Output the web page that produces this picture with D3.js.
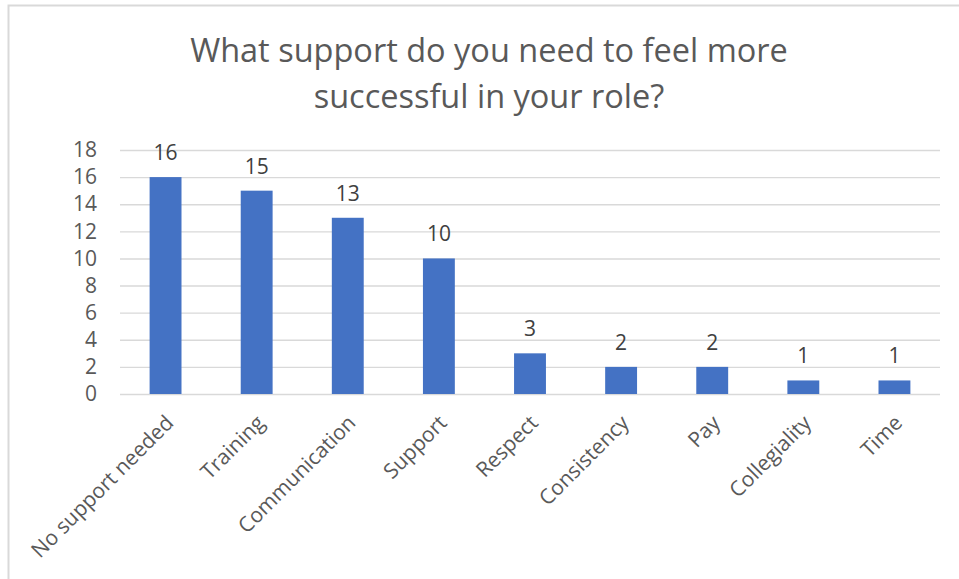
<!DOCTYPE html>
<html>
<head>
<meta charset="utf-8">
<script src="https://cdn.jsdelivr.net/npm/d3@7"></script>
<style>
  html, body { margin: 0; padding: 0; background: #fff; }
  svg { display: block; font-family: "Open Sans", "Noto Sans", sans-serif; }
</style>
</head>
<body>
<svg id="chart" width="959" height="579"></svg>
<script>
// Survey responses: what support people need to feel more successful
const categories = ["No support needed", "Training", "Communication", "Support", "Respect",
                    "Consistency", "Pay", "Collegiality", "Time"];
const counts = [16, 15, 13, 10, 3, 2, 2, 1, 1];
const yTicks = [0, 2, 4, 6, 8, 10, 12, 14, 16, 18];
const titleLines = ["What support do you need to feel more", "successful in your role?"];

const svg = d3.select("#chart");
const W = 959, H = 579;
const plot = { left: 120, right: 940, top: 150, bottom: 394 };
const labelSize = 21;

// outer chart frame (only top/left edges fall inside the canvas)
svg.append("path")
  .attr("d", `M8.5,${H} V5.5 H${W}`)
  .attr("fill", "none").attr("stroke", "#d9d9d9").attr("stroke-width", 2);

const x = d3.scaleBand().domain(categories)
  .range([plot.left, plot.right]).paddingInner(0.65).paddingOuter(0.325);
const y = d3.scaleLinear().domain([0, 18]).range([plot.bottom, plot.top]);

// title, sized so the first line spans the full heading width
const title = svg.append("text").attr("text-anchor", "middle").attr("fill", "#595959");
titleLines.forEach((t, i) => {
  title.append("tspan").attr("x", 489).attr("y", i === 0 ? 62 : 108).text(t);
});
title.attr("font-size", 30);
const firstW = title.select("tspan").node().getComputedTextLength();
title.attr("font-size", 30 * 598 / firstW);

// horizontal gridlines + y axis labels
const yAxis = d3.axisLeft(y).tickValues(yTicks).tickSize(-(plot.right - plot.left)).tickPadding(23);
const gy = svg.append("g").attr("transform", `translate(${plot.left},0)`).call(yAxis);
gy.select(".domain").remove();
gy.selectAll(".tick line").attr("stroke", "#d9d9d9").attr("stroke-width", 1.4);
gy.selectAll(".tick text").attr("fill", "#595959").attr("font-size", labelSize)
  .attr("font-family", "\"Open Sans\", sans-serif");

// bars
svg.append("g").selectAll("rect").data(categories).join("rect")
  .attr("x", d => x(d))
  .attr("width", x.bandwidth())
  .attr("y", (d, i) => y(counts[i]))
  .attr("height", (d, i) => y(0) - y(counts[i]))
  .attr("fill", "#4472c4");

// value labels above bars
svg.append("g").selectAll("text").data(categories).join("text")
  .attr("x", d => x(d) + x.bandwidth() / 2)
  .attr("y", (d, i) => y(counts[i]) - 17)
  .attr("text-anchor", "middle")
  .attr("fill", "#404040")
  .attr("font-size", labelSize)
  .text((d, i) => counts[i]);

// category labels on the x axis, rotated 45 degrees
const xAxis = d3.axisBottom(x).tickSize(0).tickPadding(0);
const gx = svg.append("g").attr("transform", `translate(0,${plot.bottom})`).call(xAxis);
gx.select(".domain").remove();
gx.selectAll(".tick text")
  .attr("fill", "#595959").attr("font-size", labelSize)
  .attr("font-family", "\"Open Sans\", sans-serif")
  .attr("text-anchor", "end")
  .attr("dy", "0.35em")
  .attr("transform", "translate(4,25) rotate(-45)");
</script>
</body>
</html>
